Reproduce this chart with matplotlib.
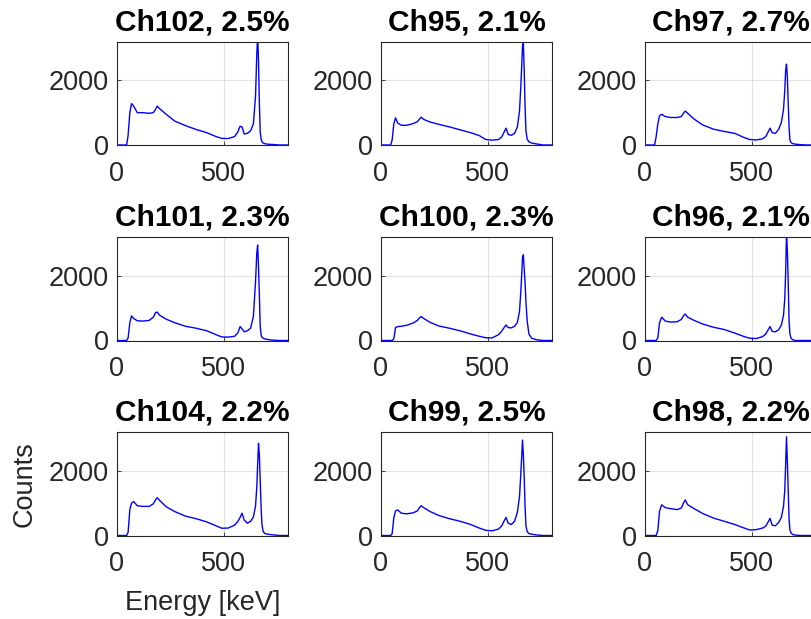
import matplotlib
matplotlib.use('Agg')
import matplotlib.pyplot as plt

plt.rcParams['font.family'] = ['Liberation Sans', 'DejaVu Sans']

# energy axis shared by all channels [keV]
energy = [0, 45, 52, 60, 68, 78, 95, 120, 150, 170, 180, 188, 200, 230, 270,
          320, 370, 420, 460, 490, 520, 550, 565, 576, 585, 595, 610, 625,
          638, 648, 654, 658, 662, 666, 670, 674, 678, 684, 692, 705, 730,
          760, 800]

counts_ch102 = [0, 0, 300, 1000, 1280, 1200, 1000, 1000, 980, 1000, 1100, 1200,
                1120, 950, 740, 600, 480, 380, 270, 205, 200, 260, 400, 580,
                560, 340, 360, 440, 650, 1500, 2800, 3400, 2600, 1300, 400,
                200, 100, 60, 40, 25, 15, 0, 0]
counts_ch95 = [0, 0, 150, 650, 840, 680, 610, 610, 660, 720, 800, 860, 790, 710,
               640, 560, 470, 380, 290, 170, 150, 170, 250, 400, 520, 330, 300,
               360, 560, 1050, 1800, 2400, 3050, 3150, 2300, 1200, 450, 180,
               100, 60, 30, 0, 0]
counts_ch97 = [0, 0, 250, 650, 900, 950, 880, 850, 850, 880, 980, 1050, 980,
               800, 620, 490, 420, 360, 240, 170, 155, 190, 260, 400, 520, 380,
               360, 480, 700, 1100, 1700, 2300, 2500, 2100, 1300, 550, 150, 70,
               40, 25, 10, 0, 0]
counts_ch101 = [0, 0, 80, 550, 760, 680, 610, 600, 620, 720, 860, 880, 780, 660,
                550, 440, 380, 300, 190, 110, 105, 130, 230, 430, 360, 270, 300,
                380, 740, 1800, 2700, 2950, 2300, 1400, 450, 180, 100, 70, 50,
                30, 10, 0, 0]
counts_ch100 = [0, 0, 0, 50, 400, 430, 440, 470, 540, 620, 700, 740, 680, 560,
                450, 380, 300, 200, 130, 85, 80, 180, 290, 400, 480, 400, 390,
                440, 560, 900, 1500, 2000, 2550, 2650, 2200, 1800, 1200, 600,
                200, 70, 20, 0, 0]
counts_ch96 = [0, 0, 0, 80, 550, 720, 600, 570, 580, 650, 760, 820, 720, 620,
               510, 410, 340, 230, 130, 70, 60, 120, 200, 330, 430, 280, 270,
               330, 480, 780, 1300, 2100, 3300, 2800, 1800, 600, 200, 60, 20,
               0, 0, 0, 0]
counts_ch104 = [0, 0, 100, 800, 1000, 1050, 920, 900, 900, 980, 1100, 1170,
                1080, 890, 740, 600, 520, 420, 310, 225, 230, 320, 430, 560,
                690, 480, 380, 440, 570, 900, 1500, 2200, 2850, 2500, 1700,
                900, 350, 120, 60, 40, 20, 0, 0]
counts_ch99 = [0, 0, 50, 550, 760, 790, 690, 670, 700, 760, 860, 920, 860, 740,
               620, 520, 440, 340, 230, 160, 145, 200, 300, 450, 560, 380, 340,
               440, 720, 1200, 1900, 2400, 2950, 2500, 1800, 900, 300, 120, 60,
               40, 15, 0, 0]
counts_ch98 = [0, 0, 0, 150, 750, 950, 860, 830, 800, 850, 1000, 1100, 950,
               830, 680, 540, 440, 340, 240, 170, 180, 230, 290, 420, 530, 320,
               300, 400, 560, 900, 1400, 2200, 3050, 2300, 1400, 500, 170, 70,
               30, 10, 0, 0, 0]

channels = ['Ch102', 'Ch95', 'Ch97', 'Ch101', 'Ch100', 'Ch96',
            'Ch104', 'Ch99', 'Ch98']
resolution = [2.5, 2.1, 2.7, 2.3, 2.3, 2.1, 2.2, 2.5, 2.2]
spectra = [counts_ch102, counts_ch95, counts_ch97, counts_ch101, counts_ch100,
           counts_ch96, counts_ch104, counts_ch99, counts_ch98]

W, H = 812, 619
fig = plt.figure(figsize=(W / 100, H / 100), dpi=100)

# axes placement in pixels (the third column runs off the right edge)
col_left = [117, 381, 645]
row_top = [41.5, 237, 432]
ax_w, ax_h = 171, 103.5

dark = (0.15, 0.15, 0.15)
for i in range(9):
    r, c = divmod(i, 3)
    ax = fig.add_axes([col_left[c] / W, 1 - (row_top[r] + ax_h) / H,
                       ax_w / W, ax_h / H])
    ax.plot(energy, spectra[i], color='blue', lw=1.0)
    ax.set_xlim(0, 800)
    ax.set_ylim(0, 3200)
    ax.set_xticks([0, 500])
    ax.set_yticks([0, 2000])
    ax.grid(True, color=(0.15, 0.15, 0.15), alpha=0.13, lw=0.8)
    ax.set_axisbelow(True)
    ax.tick_params(direction='in', length=3, width=0.6, colors=dark,
                   labelsize=19.5, labelcolor=dark)
    ax.tick_params(axis='x', pad=11.5)
    ax.tick_params(axis='y', pad=6)
    for s in ax.spines.values():
        s.set_color(dark)
        s.set_linewidth(0.8)
    ax.set_title('%s, %.1f%%' % (channels[i], resolution[i]),
                 fontsize=21.5, fontweight='bold', pad=8)
    if i == 6:
        ax.set_ylabel('Counts', fontsize=19.5, color=dark, labelpad=7.5)
        ax.set_xlabel('Energy [keV]', fontsize=19.5, color=dark, labelpad=9)

plt.savefig('out.png', dpi=100)
